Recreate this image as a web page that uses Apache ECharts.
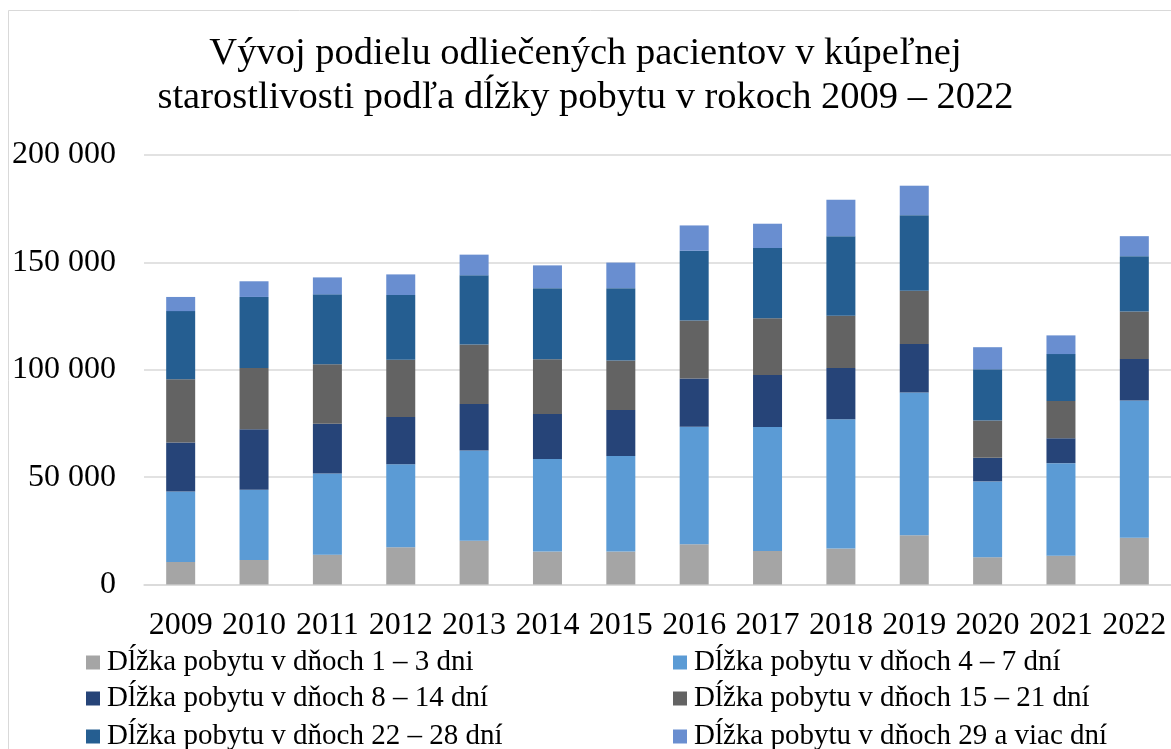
<!DOCTYPE html>
<html>
<head>
<meta charset="utf-8">
<script src="https://cdn.jsdelivr.net/npm/echarts@6/dist/echarts.min.js"></script>
<style>
  html, body { margin: 0; padding: 0; background: #fff; }
  #main { width: 1171px; height: 749px; }
</style>
</head>
<body>
<div id="main"></div>
<script>
  // roky
  var years = ['2009', '2010', '2011', '2012', '2013', '2014', '2015', '2016', '2017', '2018', '2019', '2020', '2021', '2022'];

  // počty odliečených pacientov podľa dĺžky pobytu (odčítané z grafu)
  var dni1_3 = [10500, 11400, 13900, 17300, 20400, 15400, 15400, 18800, 15600, 16800, 22900, 12700, 13400, 21800];
  var dni4_7 = [32800, 32700, 37800, 38700, 42000, 43000, 44400, 54600, 57700, 60200, 66500, 35300, 43100, 63900];
  var dni8_14 = [22800, 28200, 23100, 22000, 21700, 21000, 21500, 22500, 24300, 23800, 22600, 11000, 11600, 19300];
  var dni15_21 = [29500, 28500, 27800, 26700, 27600, 25500, 23000, 27000, 26400, 24400, 24800, 17400, 17400, 22100];
  var dni22_28 = [31700, 33100, 32500, 30100, 32300, 33100, 33700, 32500, 32700, 37000, 35200, 23800, 21800, 25800];
  var dni29 = [6600, 7300, 7900, 9600, 9600, 10600, 11900, 11800, 11300, 17000, 13700, 10300, 8700, 9300];

  var seriesNames = [
    'Dĺžka pobytu v dňoch 1 – 3 dni',
    'Dĺžka pobytu v dňoch 4 – 7 dní',
    'Dĺžka pobytu v dňoch 8 – 14 dní',
    'Dĺžka pobytu v dňoch 15 – 21 dní',
    'Dĺžka pobytu v dňoch 22 – 28 dní',
    'Dĺžka pobytu v dňoch 29 a viac dní'
  ];
  var seriesData = [dni1_3, dni4_7, dni8_14, dni15_21, dni22_28, dni29];
  var colors = ['#A5A5A5', '#5B9BD5', '#264478', '#636363', '#255E91', '#698ED0'];

  var font = '"Liberation Serif", "DejaVu Serif", serif';

  var myChart = echarts.init(document.getElementById('main'));

  var series = seriesNames.map(function (name, i) {
    return {
      name: name,
      type: 'bar',
      stack: 'total',
      barWidth: 29,
      data: seriesData[i],
      itemStyle: { color: colors[i] }
    };
  });

  // legenda v dvoch stĺpcoch, každá položka zvlášť
  var legendCols = [86, 673];
  var legendRows = [648, 684, 722];
  var legends = seriesNames.map(function (name, i) {
    return {
      data: [name],
      left: legendCols[i % 2],
      top: legendRows[Math.floor(i / 2)],
      padding: 0,
      itemWidth: 14,
      itemHeight: 14,
      itemGap: 0,
      icon: 'rect',
      textStyle: { fontFamily: font, fontSize: 29, color: '#000', padding: [0, 0, 0, 2] }
    };
  });

  var option = {
    animation: false,
    backgroundColor: '#fff',
    textStyle: { fontFamily: font },
    title: {
      text: 'Vývoj podielu odliečených pacientov v kúpeľnej\nstarostlivosti podľa dĺžky pobytu v rokoch 2009 – 2022',
      left: 'center',
      top: 27,
      textStyle: { fontFamily: font, fontSize: 38.5, fontWeight: 'normal', color: '#000', lineHeight: 44 }
    },
    // ohraničenie grafu
    graphic: [{
      type: 'rect',
      shape: { x: 8.5, y: 10.5, width: 1200, height: 800 },
      style: { fill: 'none', stroke: '#d9d9d9', lineWidth: 1 },
      silent: true
    }],
    legend: legends,
    grid: {
      left: 144,
      right: -3,
      top: 155,
      bottom: 164.5
    },
    xAxis: {
      type: 'category',
      data: years,
      axisTick: { show: false },
      axisLine: { lineStyle: { color: '#d9d9d9', width: 1.5 } },
      axisLabel: { color: '#000', fontFamily: font, fontSize: 32, margin: 25, interval: 0 }
    },
    yAxis: {
      type: 'value',
      min: 0,
      max: 200000,
      interval: 50000,
      axisLine: { show: false },
      axisTick: { show: false },
      splitLine: { lineStyle: { color: '#d9d9d9', width: 1.5 } },
      axisLabel: {
        color: '#000',
        fontFamily: font,
        fontSize: 32,
        margin: 28,
        formatter: function (v) {
          return String(v).replace(/\B(?=(\d{3})+(?!\d))/g, ' ');
        }
      }
    },
    series: series
  };

  myChart.setOption(option);
</script>
</body>
</html>
